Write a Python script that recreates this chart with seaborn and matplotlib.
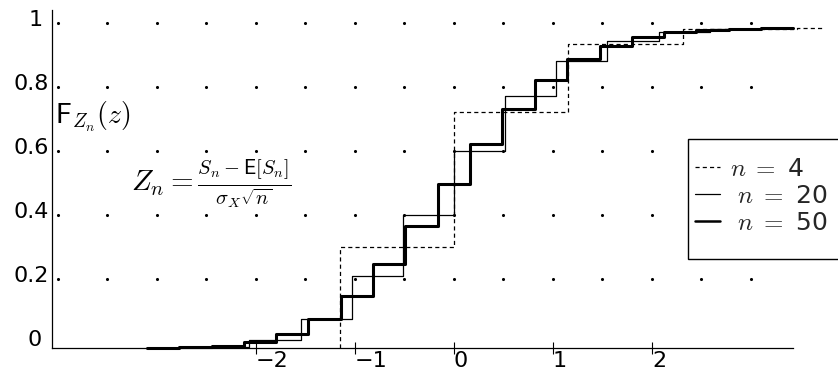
import numpy as np
import pandas as pd
import matplotlib
matplotlib.use("Agg")
import matplotlib.pyplot as plt
import seaborn as sns
from matplotlib.patches import Rectangle
from matplotlib.transforms import ScaledTranslation

# ---------------- data ----------------
# step positions z and CDF levels F_{Z_n}(z) after each step
z4 = [-1.155, -1.155, 0.0, 1.155, 2.309, 3.464, 3.73]
F4 = [0.0, 0.316, 0.738, 0.949, 0.996, 1.0, 1.0]

z20 = [-2.582, -2.066, -1.549, -1.033, -0.516, 0.0, 0.516, 1.033,
       1.549, 2.066, 2.582, 3.098]
F20 = [0.003, 0.024, 0.091, 0.225, 0.415, 0.617, 0.786, 0.898,
       0.959, 0.986, 0.996, 0.999]

z50 = [-3.103, -2.776, -2.449, -2.123, -1.796, -1.470, -1.143, -0.816,
       -0.490, -0.163, 0.163, 0.490, 0.816, 1.143, 1.470, 1.796, 2.123,
       2.449, 2.776, 3.103, 3.429]
F50 = [0.0005, 0.0021, 0.0070, 0.0194, 0.0453, 0.0916, 0.1637, 0.2622,
       0.3816, 0.5110, 0.6371, 0.7481, 0.8369, 0.9017, 0.9449, 0.9713,
       0.9861, 0.9938, 0.9974, 0.9990, 0.9997]

series_labels = [r"$n\;=$ 4", r" $n\;=$ 20", r" $n\;=$ 50"]

xtick_vals = [-2, -1, 0, 1, 2]
xtick_labels = ["\u22122", "\u22121", "0", "1", "2"]
ytick_vals = [0, 0.2, 0.4, 0.6, 0.8, 1.0]
ytick_labels = ["0", "0.2", "0.4", "0.6", "0.8", "1"]

grid_x = [-4, -3.5, -3, -2.5, -2, -1.5, -1, -0.5, 0, 0.5, 1, 1.5, 2, 2.5, 3]
grid_y = [0.2, 0.4, 0.6, 0.8, 1.0]

# ---------------- style ----------------
sns.set_theme(style="white")
plt.rcParams["font.family"] = ["DejaVu Sans"]
plt.rcParams["mathtext.fontset"] = "cm"

W, H = 838, 371
fig = plt.figure(figsize=(W / 100, H / 100), dpi=100)
ax = fig.add_axes([52 / W, 23 / H, 773.25 / W, 338 / H])
ax.set_facecolor("white")

yoff = 0.016  # tick / dot frame offset relative to curves

gx, gy = np.meshgrid(np.array(grid_x), np.array(grid_y) + yoff)
ax.scatter(gx.ravel(), gy.ravel(), s=5, color="black", linewidths=0, zorder=1)

df4 = pd.DataFrame({"z": z4, "F": F4})
df20 = pd.DataFrame({"z": z20, "F": F20})
df50 = pd.DataFrame({"z": z50, "F": F50})

sns.lineplot(data=df4, x="z", y="F", estimator=None, sort=False,
             drawstyle="steps-post", color="black", lw=0.9,
             linestyle=(0, (3.3, 2.5)), label=series_labels[0], ax=ax,
             zorder=3)
sns.lineplot(data=df20, x="z", y="F", estimator=None, sort=False,
             drawstyle="steps-post", color="black", lw=0.9,
             label=series_labels[1], ax=ax, zorder=3)
sns.lineplot(data=df50, x="z", y="F", estimator=None, sort=False,
             drawstyle="steps-post", color="black", lw=2.2,
             label=series_labels[2], ax=ax, zorder=4)

for line in ax.get_lines():
    line.set_clip_on(False)

ax.set_xlim(-4.06, 3.75)
ax.set_ylim(0, 338 / 320)
ax.set_xlabel("")
ax.set_ylabel("")

for s in ["top", "right"]:
    ax.spines[s].set_visible(False)
for s in ["left", "bottom"]:
    ax.spines[s].set_color("black")
    ax.spines[s].set_linewidth(0.9)
ax.spines["bottom"].set_bounds(-4.06, 3.42)

ax.set_xticks(xtick_vals)
ax.set_xticklabels(xtick_labels, ha="left")
ax.set_yticks([v + yoff for v in ytick_vals])
ax.set_yticklabels(ytick_labels)
ax.tick_params(axis="x", direction="inout", length=8, width=0.8,
               color="black", pad=-2, labelsize=16, labelcolor="black",
               bottom=True)
ax.tick_params(axis="y", length=0, pad=2, labelsize=16, labelcolor="black",
               left=True)

for lbl in ax.get_yticklabels():
    dx = -7 if lbl.get_text() in ("0", "1") else 0
    lbl.set_transform(lbl.get_transform() +
                      ScaledTranslation(dx / 100, 5 / 100, fig.dpi_scale_trans))

# legend: frame drawn separately, entries placed inside
handles, labels = ax.get_legend_handles_labels()
ax.legend_.remove()
rect = Rectangle((688 / W, 1 - 259 / H), 152 / W, 120 / H,
                 transform=fig.transFigure, facecolor="white",
                 edgecolor="black", lw=1.0, zorder=4)
fig.add_artist(rect)
leg = fig.legend(handles, labels, loc="upper left",
                 bbox_to_anchor=(695 / W, 1 - 157 / H),
                 bbox_transform=fig.transFigure,
                 frameon=False, fontsize=18, handlelength=1.0,
                 handletextpad=0.4, borderpad=0, borderaxespad=0,
                 labelspacing=0.12)
leg.get_lines()[2].set_linewidth(1.8)

fig.text(55 / W, 1 - 117 / H, r"$\mathsf{F}_{Z_n}(z)$", fontsize=20,
         ha="left", va="center", color="black")
fig.text(131 / W, 1 - 184 / H,
         r"$Z_n = \frac{S_n - \mathsf{E}[S_n]}{\sigma_X\sqrt{n}}$",
         fontsize=21, ha="left", va="center", color="black")

fig.savefig("out.png", dpi=100, facecolor="white")
